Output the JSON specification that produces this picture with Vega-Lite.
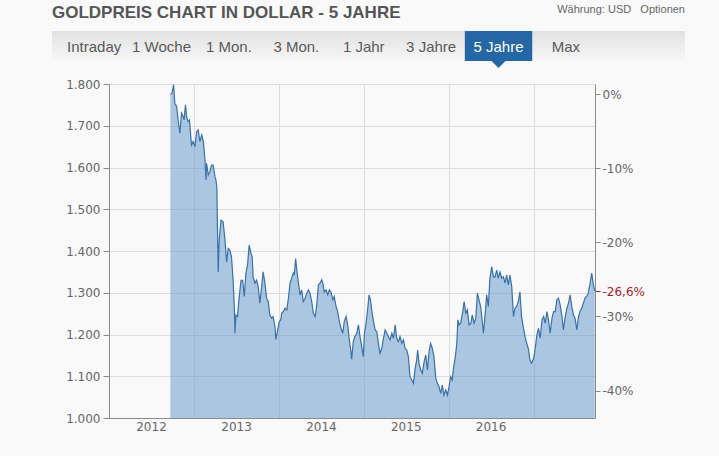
{
  "$schema": "https://vega.github.io/schema/vega-lite/v6.json",
  "background": "#f9f9f9",
  "padding": {"left": 52, "top": 4, "right": 34, "bottom": 24},
  "title": {"text": "GOLDPREIS CHART IN DOLLAR - 5 JAHRE", "anchor": "start", "font": "Liberation Sans", "fontSize": 17, "fontWeight": "bold", "color": "#555555", "offset": -18},
  "spacing": 10,
  "config": {
    "view": {"stroke": null},
    "axis": {"labelFont": "DejaVu Sans", "labelFontSize": 12, "labelColor": "#666666", "domainColor": "#8a8a8a", "tickColor": "#8a8a8a", "gridColor": "#dcdcdc"}
  },
  "vconcat": [
    {
      "width": 576,
      "height": 30,
      "title": {"text": "Währung: USD\u00a0\u00a0\u00a0Optionen", "anchor": "end", "font": "Liberation Sans", "fontSize": 11, "fontWeight": "normal", "color": "#666666", "offset": 16},
      "data": {"values": [
        {"tab": "Intraday", "sel": false},
        {"tab": "1 Woche", "sel": false},
        {"tab": "1 Mon.", "sel": false},
        {"tab": "3 Mon.", "sel": false},
        {"tab": "1 Jahr", "sel": false},
        {"tab": "3 Jahre", "sel": false},
        {"tab": "5 Jahre", "sel": true},
        {"tab": "Max", "sel": false}
      ]},
      "layer": [
        {
          "data": {"values": [{"from": 0, "to": 1}]},
          "mark": {"type": "rect", "fill": {"gradient": "linear", "x1": 0, "y1": 0, "x2": 0, "y2": 1, "stops": [{"offset": 0, "color": "#e2e2e2"}, {"offset": 1, "color": "#f6f6f6"}]}},
          "encoding": {
            "x": {"field": "from", "type": "quantitative", "axis": null, "scale": {"domain": [0, 1], "range": [-57, 576]}},
            "x2": {"field": "to"}
          }
        },
        {
          "encoding": {
            "x": {"field": "tab", "type": "nominal", "axis": null, "scale": {"type": "band", "domain": ["Intraday", "1 Woche", "1 Mon.", "3 Mon.", "1 Jahr", "3 Jahre", "5 Jahre", "Max"], "range": [-57, 576], "paddingInner": 0, "paddingOuter": 0.696, "align": 0.09}}
          },
          "layer": [
            {
              "transform": [{"filter": "datum.sel"}],
              "mark": {"type": "rect", "color": "#2566a5"}
            },
            {
              "transform": [{"filter": "datum.sel"}],
              "mark": {"type": "point", "shape": "M-1,0L1,0L0,1Z", "filled": true, "size": 196, "color": "#2566a5", "opacity": 1},
              "encoding": {
                "y": {"datum": 0, "type": "quantitative", "scale": {"domain": [0, 1]}, "axis": null}
              }
            },
            {
              "mark": {"type": "text", "font": "Liberation Sans", "fontSize": 15, "baseline": "middle", "dy": 1},
              "encoding": {
                "text": {"field": "tab"},
                "color": {"condition": {"test": "datum.sel", "value": "#ffffff"}, "value": "#5a5a5a"}
              }
            }
          ]
        }
      ],
      "resolve": {"scale": {"x": "independent"}}
    },
    {
      "width": 486,
      "height": 334,
      "data": {"values": [
        {"date": "2012-09-21", "price": 1776}, {"date": "2012-09-28", "price": 1778}, {"date": "2012-10-05", "price": 1798}, {"date": "2012-10-10", "price": 1754},
        {"date": "2012-10-18", "price": 1746}, {"date": "2012-10-25", "price": 1710}, {"date": "2012-11-01", "price": 1682}, {"date": "2012-11-08", "price": 1730},
        {"date": "2012-11-15", "price": 1722}, {"date": "2012-11-19", "price": 1714}, {"date": "2012-11-25", "price": 1750}, {"date": "2012-11-30", "price": 1722},
        {"date": "2012-12-06", "price": 1710}, {"date": "2012-12-12", "price": 1714}, {"date": "2012-12-21", "price": 1654}, {"date": "2012-12-28", "price": 1662},
        {"date": "2013-01-05", "price": 1650}, {"date": "2013-01-12", "price": 1686}, {"date": "2013-01-19", "price": 1690}, {"date": "2013-01-26", "price": 1662},
        {"date": "2013-02-03", "price": 1678}, {"date": "2013-02-10", "price": 1662}, {"date": "2013-02-17", "price": 1618}, {"date": "2013-02-21", "price": 1570},
        {"date": "2013-02-24", "price": 1610}, {"date": "2013-03-03", "price": 1582}, {"date": "2013-03-10", "price": 1590}, {"date": "2013-03-17", "price": 1606},
        {"date": "2013-03-24", "price": 1606}, {"date": "2013-04-01", "price": 1578}, {"date": "2013-04-05", "price": 1570}, {"date": "2013-04-09", "price": 1554},
        {"date": "2013-04-12", "price": 1442}, {"date": "2013-04-15", "price": 1350}, {"date": "2013-04-19", "price": 1426}, {"date": "2013-04-27", "price": 1474},
        {"date": "2013-05-06", "price": 1470}, {"date": "2013-05-14", "price": 1426}, {"date": "2013-05-21", "price": 1374}, {"date": "2013-05-28", "price": 1406},
        {"date": "2013-06-04", "price": 1402}, {"date": "2013-06-11", "price": 1386}, {"date": "2013-06-18", "price": 1330}, {"date": "2013-06-23", "price": 1267},
        {"date": "2013-06-26", "price": 1203}, {"date": "2013-06-30", "price": 1247}, {"date": "2013-07-07", "price": 1243}, {"date": "2013-07-13", "price": 1283},
        {"date": "2013-07-22", "price": 1330}, {"date": "2013-07-29", "price": 1330}, {"date": "2013-08-05", "price": 1291}, {"date": "2013-08-12", "price": 1347},
        {"date": "2013-08-19", "price": 1366}, {"date": "2013-08-26", "price": 1414}, {"date": "2013-09-03", "price": 1394}, {"date": "2013-09-08", "price": 1386},
        {"date": "2013-09-12", "price": 1338}, {"date": "2013-09-20", "price": 1323}, {"date": "2013-09-27", "price": 1330}, {"date": "2013-10-04", "price": 1314},
        {"date": "2013-10-11", "price": 1275}, {"date": "2013-10-19", "price": 1314}, {"date": "2013-10-25", "price": 1350}, {"date": "2013-11-02", "price": 1323},
        {"date": "2013-11-09", "price": 1287}, {"date": "2013-11-16", "price": 1279}, {"date": "2013-11-23", "price": 1247}, {"date": "2013-12-01", "price": 1239},
        {"date": "2013-12-07", "price": 1243}, {"date": "2013-12-15", "price": 1219}, {"date": "2013-12-19", "price": 1188}, {"date": "2013-12-25", "price": 1207},
        {"date": "2014-01-03", "price": 1231}, {"date": "2014-01-09", "price": 1235}, {"date": "2014-01-13", "price": 1251}, {"date": "2014-01-20", "price": 1255},
        {"date": "2014-01-28", "price": 1263}, {"date": "2014-02-04", "price": 1259}, {"date": "2014-02-11", "price": 1287}, {"date": "2014-02-18", "price": 1323},
        {"date": "2014-02-25", "price": 1335}, {"date": "2014-03-04", "price": 1347}, {"date": "2014-03-08", "price": 1342}, {"date": "2014-03-14", "price": 1382},
        {"date": "2014-03-19", "price": 1354}, {"date": "2014-03-26", "price": 1323}, {"date": "2014-04-02", "price": 1295}, {"date": "2014-04-09", "price": 1307},
        {"date": "2014-04-16", "price": 1279}, {"date": "2014-04-24", "price": 1287}, {"date": "2014-05-01", "price": 1299}, {"date": "2014-05-08", "price": 1307},
        {"date": "2014-05-15", "price": 1299}, {"date": "2014-05-22", "price": 1279}, {"date": "2014-05-29", "price": 1251}, {"date": "2014-06-06", "price": 1243},
        {"date": "2014-06-13", "price": 1271}, {"date": "2014-06-20", "price": 1319}, {"date": "2014-06-27", "price": 1323}, {"date": "2014-07-04", "price": 1331},
        {"date": "2014-07-09", "price": 1323}, {"date": "2014-07-15", "price": 1302}, {"date": "2014-07-23", "price": 1307}, {"date": "2014-07-30", "price": 1295},
        {"date": "2014-08-06", "price": 1307}, {"date": "2014-08-13", "price": 1302}, {"date": "2014-08-21", "price": 1283}, {"date": "2014-08-27", "price": 1291},
        {"date": "2014-09-04", "price": 1267}, {"date": "2014-09-11", "price": 1255}, {"date": "2014-09-18", "price": 1231}, {"date": "2014-09-25", "price": 1215},
        {"date": "2014-10-03", "price": 1203}, {"date": "2014-10-09", "price": 1231}, {"date": "2014-10-17", "price": 1243}, {"date": "2014-10-24", "price": 1223},
        {"date": "2014-10-31", "price": 1187}, {"date": "2014-11-06", "price": 1163}, {"date": "2014-11-10", "price": 1141}, {"date": "2014-11-17", "price": 1183},
        {"date": "2014-11-24", "price": 1195}, {"date": "2014-12-02", "price": 1203}, {"date": "2014-12-09", "price": 1223}, {"date": "2014-12-16", "price": 1195},
        {"date": "2014-12-23", "price": 1171}, {"date": "2014-12-30", "price": 1147}, {"date": "2015-01-04", "price": 1203}, {"date": "2015-01-11", "price": 1227},
        {"date": "2015-01-19", "price": 1267}, {"date": "2015-01-24", "price": 1295}, {"date": "2015-01-30", "price": 1283}, {"date": "2015-02-05", "price": 1255},
        {"date": "2015-02-12", "price": 1231}, {"date": "2015-02-19", "price": 1211}, {"date": "2015-02-26", "price": 1207}, {"date": "2015-03-05", "price": 1179},
        {"date": "2015-03-12", "price": 1155}, {"date": "2015-03-20", "price": 1167}, {"date": "2015-03-27", "price": 1191}, {"date": "2015-04-03", "price": 1211},
        {"date": "2015-04-10", "price": 1203}, {"date": "2015-04-17", "price": 1195}, {"date": "2015-04-24", "price": 1187}, {"date": "2015-05-02", "price": 1203},
        {"date": "2015-05-09", "price": 1191}, {"date": "2015-05-16", "price": 1223}, {"date": "2015-05-23", "price": 1191}, {"date": "2015-05-30", "price": 1183},
        {"date": "2015-06-06", "price": 1195}, {"date": "2015-06-14", "price": 1179}, {"date": "2015-06-21", "price": 1187}, {"date": "2015-06-28", "price": 1167},
        {"date": "2015-07-05", "price": 1163}, {"date": "2015-07-12", "price": 1147}, {"date": "2015-07-19", "price": 1099}, {"date": "2015-07-27", "price": 1091},
        {"date": "2015-08-03", "price": 1083}, {"date": "2015-08-10", "price": 1119}, {"date": "2015-08-17", "price": 1139}, {"date": "2015-08-21", "price": 1163},
        {"date": "2015-08-27", "price": 1131}, {"date": "2015-09-03", "price": 1115}, {"date": "2015-09-10", "price": 1107}, {"date": "2015-09-18", "price": 1135},
        {"date": "2015-09-25", "price": 1151}, {"date": "2015-10-02", "price": 1115}, {"date": "2015-10-09", "price": 1159}, {"date": "2015-10-16", "price": 1179},
        {"date": "2015-10-23", "price": 1167}, {"date": "2015-10-30", "price": 1147}, {"date": "2015-11-07", "price": 1095}, {"date": "2015-11-14", "price": 1083},
        {"date": "2015-11-21", "price": 1075}, {"date": "2015-11-28", "price": 1059}, {"date": "2015-12-05", "price": 1079}, {"date": "2015-12-12", "price": 1055},
        {"date": "2015-12-20", "price": 1067}, {"date": "2015-12-27", "price": 1055}, {"date": "2016-01-03", "price": 1075}, {"date": "2016-01-10", "price": 1099},
        {"date": "2016-01-17", "price": 1091}, {"date": "2016-01-22", "price": 1119}, {"date": "2016-01-29", "price": 1143}, {"date": "2016-02-05", "price": 1175},
        {"date": "2016-02-10", "price": 1235}, {"date": "2016-02-15", "price": 1223}, {"date": "2016-02-22", "price": 1227}, {"date": "2016-03-01", "price": 1251},
        {"date": "2016-03-08", "price": 1279}, {"date": "2016-03-15", "price": 1251}, {"date": "2016-03-22", "price": 1259}, {"date": "2016-03-29", "price": 1223},
        {"date": "2016-04-06", "price": 1227}, {"date": "2016-04-12", "price": 1247}, {"date": "2016-04-20", "price": 1227}, {"date": "2016-04-27", "price": 1239},
        {"date": "2016-05-04", "price": 1299}, {"date": "2016-05-11", "price": 1283}, {"date": "2016-05-18", "price": 1267}, {"date": "2016-05-25", "price": 1231},
        {"date": "2016-05-30", "price": 1203}, {"date": "2016-06-06", "price": 1247}, {"date": "2016-06-13", "price": 1295}, {"date": "2016-06-20", "price": 1267},
        {"date": "2016-06-27", "price": 1335}, {"date": "2016-07-05", "price": 1362}, {"date": "2016-07-12", "price": 1338}, {"date": "2016-07-19", "price": 1338},
        {"date": "2016-07-26", "price": 1354}, {"date": "2016-08-02", "price": 1335}, {"date": "2016-08-09", "price": 1350}, {"date": "2016-08-17", "price": 1335},
        {"date": "2016-08-24", "price": 1338}, {"date": "2016-08-31", "price": 1323}, {"date": "2016-09-07", "price": 1342}, {"date": "2016-09-14", "price": 1319},
        {"date": "2016-09-21", "price": 1342}, {"date": "2016-09-29", "price": 1314}, {"date": "2016-10-06", "price": 1243}, {"date": "2016-10-13", "price": 1263},
        {"date": "2016-10-20", "price": 1267}, {"date": "2016-10-27", "price": 1279}, {"date": "2016-11-03", "price": 1302}, {"date": "2016-11-10", "price": 1243},
        {"date": "2016-11-17", "price": 1219}, {"date": "2016-11-25", "price": 1195}, {"date": "2016-12-02", "price": 1179}, {"date": "2016-12-09", "price": 1167},
        {"date": "2016-12-16", "price": 1139}, {"date": "2016-12-23", "price": 1131}, {"date": "2017-01-01", "price": 1143}, {"date": "2017-01-08", "price": 1167},
        {"date": "2017-01-15", "price": 1199}, {"date": "2017-01-22", "price": 1215}, {"date": "2017-01-29", "price": 1191}, {"date": "2017-02-06", "price": 1235},
        {"date": "2017-02-13", "price": 1243}, {"date": "2017-02-20", "price": 1227}, {"date": "2017-02-27", "price": 1255}, {"date": "2017-03-06", "price": 1235},
        {"date": "2017-03-13", "price": 1203}, {"date": "2017-03-21", "price": 1239}, {"date": "2017-03-28", "price": 1255}, {"date": "2017-04-04", "price": 1255},
        {"date": "2017-04-11", "price": 1283}, {"date": "2017-04-18", "price": 1287}, {"date": "2017-04-25", "price": 1271}, {"date": "2017-05-03", "price": 1243},
        {"date": "2017-05-09", "price": 1211}, {"date": "2017-05-17", "price": 1243}, {"date": "2017-05-24", "price": 1263}, {"date": "2017-05-31", "price": 1275},
        {"date": "2017-06-07", "price": 1295}, {"date": "2017-06-14", "price": 1267}, {"date": "2017-06-21", "price": 1247}, {"date": "2017-06-28", "price": 1239},
        {"date": "2017-07-06", "price": 1211}, {"date": "2017-07-13", "price": 1243}, {"date": "2017-07-20", "price": 1255}, {"date": "2017-07-27", "price": 1263},
        {"date": "2017-08-03", "price": 1275}, {"date": "2017-08-10", "price": 1287}, {"date": "2017-08-17", "price": 1291}, {"date": "2017-08-24", "price": 1299},
        {"date": "2017-09-01", "price": 1323}, {"date": "2017-09-08", "price": 1347}, {"date": "2017-09-15", "price": 1319}, {"date": "2017-09-21", "price": 1304}
      ]},
      "layer": [
        {
          "mark": {"type": "area", "color": "#5b93c8", "opacity": 0.5, "clip": true},
          "encoding": {
            "x": {
              "field": "date", "type": "temporal", "title": null,
              "scale": {"domain": [{"year": 2012, "month": 1, "date": 1, "utc": true}, {"year": 2017, "month": 9, "date": 22, "utc": true}], "nice": false},
              "axis": {
                "values": [
                  {"year": 2012, "month": 1, "date": 1, "utc": true},
                  {"year": 2013, "month": 1, "date": 1, "utc": true},
                  {"year": 2014, "month": 1, "date": 1, "utc": true},
                  {"year": 2015, "month": 1, "date": 1, "utc": true},
                  {"year": 2016, "month": 1, "date": 1, "utc": true},
                  {"year": 2017, "month": 1, "date": 1, "utc": true}
                ],
                "labelExpr": "utcFormat(datum.value, '%Y') == '2017' ? '' : utcFormat(datum.value, '%Y')",
                "grid": true, "ticks": false, "labelOffset": 42, "labelPadding": 3,
                "labelFlush": false, "labelOverlap": false, "labelBound": false, "title": null
              }
            },
            "y": {
              "field": "price", "type": "quantitative", "title": null,
              "scale": {"domain": [1000, 1800], "zero": false, "nice": false},
              "axis": {
                "values": [1000, 1100, 1200, 1300, 1400, 1500, 1600, 1700, 1800],
                "labelExpr": "replace(format(datum.value, ','), ',', '.')",
                "grid": true, "tickSize": 6, "labelPadding": 3, "title": null
              }
            }
          }
        },
        {
          "mark": {"type": "line", "color": "#3a72a8", "strokeWidth": 1.2, "clip": true},
          "encoding": {
            "x": {"field": "date", "type": "temporal", "title": null},
            "y": {
              "field": "price", "type": "quantitative", "title": null,
              "axis": {
                "orient": "right",
                "values": [1776, 1598.4, 1420.8, 1243.2, 1065.6, 1303.6],
                "labelExpr": "abs(datum.value - 1303.6) < 0.1 ? '-26,6%' : round((datum.value / 1776 - 1) * 100) + '%'",
                "grid": false, "tickSize": 5, "labelPadding": 2, "labelOverlap": false, "title": null,
                "labelColor": {"condition": {"test": "abs(datum.value - 1303.6) < 0.1", "value": "#a3262a"}, "value": "#666666"},
                "tickColor": {"condition": {"test": "abs(datum.value - 1303.6) < 0.1", "value": "#a3262a"}, "value": "#8a8a8a"}
              }
            }
          }
        }
      ],
      "resolve": {"axis": {"y": "independent"}}
    }
  ]
}
